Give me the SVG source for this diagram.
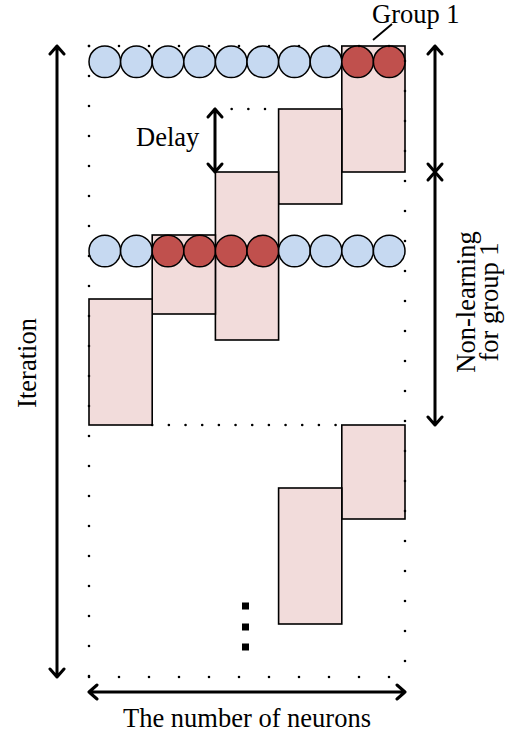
<svg xmlns="http://www.w3.org/2000/svg" width="521" height="735" viewBox="0 0 521 735">
<style>
.blk{fill:#F2DCDB;stroke:#000;stroke-width:1.6}
.b{fill:#C6D9F1;stroke:#000;stroke-width:1.5}
.r{fill:#C0504D;stroke:#000;stroke-width:1.5}
.dot{stroke:#000;stroke-width:2.6;stroke-linecap:round;stroke-dasharray:0 30;fill:none}
.dot2{stroke:#000;stroke-width:2.6;stroke-linecap:round;stroke-dasharray:0 16.67;fill:none}
.ar{stroke:#000;stroke-width:3;fill:none;stroke-linecap:round;stroke-linejoin:round}
.t{font-family:"Liberation Serif","Times New Roman",serif;font-size:26.5px;fill:#000}
</style>
<rect width="521" height="735" fill="#fff"/>
<g id="blocks">
<rect class="blk" x="341.8" y="46" width="63.2" height="126"/>
<rect class="blk" x="278.6" y="109" width="63.2" height="95"/>
<rect class="blk" x="215.4" y="172" width="63.2" height="168"/>
<rect class="blk" x="152.2" y="235" width="63.2" height="79"/>
<rect class="blk" x="89" y="299" width="63.2" height="126"/>
<rect class="blk" x="341.8" y="425" width="63.2" height="94"/>
<rect class="blk" x="278.6" y="488" width="63.2" height="136"/>
</g>
<g id="row1">
<circle class="b" cx="104.8" cy="61.8" r="15.8"/>
<circle class="b" cx="136.4" cy="61.8" r="15.8"/>
<circle class="b" cx="168" cy="61.8" r="15.8"/>
<circle class="b" cx="199.6" cy="61.8" r="15.8"/>
<circle class="b" cx="231.2" cy="61.8" r="15.8"/>
<circle class="b" cx="262.8" cy="61.8" r="15.8"/>
<circle class="b" cx="294.4" cy="61.8" r="15.8"/>
<circle class="b" cx="326" cy="61.8" r="15.8"/>
<circle class="r" cx="357.6" cy="61.8" r="15.8"/>
<circle class="r" cx="389.2" cy="61.8" r="15.8"/>
</g>
<g id="row2">
<circle class="b" cx="104.8" cy="251" r="15.8"/>
<circle class="b" cx="136.4" cy="251" r="15.8"/>
<circle class="r" cx="168" cy="251" r="15.8"/>
<circle class="r" cx="199.6" cy="251" r="15.8"/>
<circle class="r" cx="231.2" cy="251" r="15.8"/>
<circle class="r" cx="262.8" cy="251" r="15.8"/>
<circle class="b" cx="294.4" cy="251" r="15.8"/>
<circle class="b" cx="326" cy="251" r="15.8"/>
<circle class="b" cx="357.6" cy="251" r="15.8"/>
<circle class="b" cx="389.2" cy="251" r="15.8"/>
</g>
<g id="grid">
<line class="dot" x1="89" y1="46" x2="405" y2="46"/>
<line class="dot" x1="405" y1="61" x2="405" y2="677"/>
<line class="dot" x1="89" y1="677" x2="405" y2="677"/>
<line class="dot" x1="89" y1="46" x2="89" y2="677"/>
<line class="dot2" x1="215" y1="109" x2="278" y2="109"/>
<line class="dot2" x1="152.2" y1="425" x2="341" y2="425"/>
</g>
<g id="ellipsis" fill="#000">
<rect x="242" y="602.5" width="7" height="7"/>
<rect x="242" y="623.5" width="7" height="7"/>
<rect x="242" y="643.5" width="7" height="7"/>
</g>
<g id="connectors">
<path class="ar" d="M57 46V677M50 54L57 46L64 54M50 669L57 677L64 669"/>
<path class="ar" d="M89 692H405M97 685L89 692L97 699M397 685L405 692L397 699"/>
<path class="ar" d="M435 46V425M428 54L435 46L442 54M428 417L435 425L442 417"/>
<path class="ar" d="M428 164L442 180M442 164L428 180"/>
<path class="ar" d="M215 109V172M208 117L215 109L222 117M208 164L215 172L222 164"/>
<path d="M373 40L392 24" stroke="#000" stroke-width="1.8"/>
</g>
<g id="labels">
<text class="t" x="372" y="22.5">Group 1</text>
<text class="t" x="136" y="146">Delay</text>
<text class="t" x="247" y="727" text-anchor="middle">The number of neurons</text>
<text class="t" transform="translate(36 363) rotate(-90)" text-anchor="middle">Iteration</text>
<text class="t" transform="translate(475 302) rotate(-90)" text-anchor="middle">Non-learning</text>
<text class="t" transform="translate(498 302) rotate(-90)" text-anchor="middle">for group 1</text>
</g>
</svg>
